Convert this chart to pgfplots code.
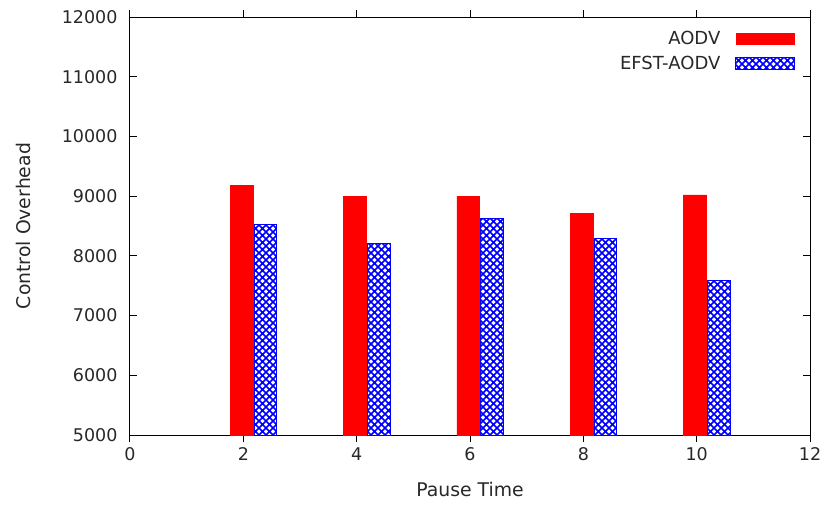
\documentclass[border=0pt]{standalone}
\usepackage{pgfplots}
\pgfplotsset{compat=1.18}
\usepackage{fontspec}
\setmainfont{DejaVu Sans}
\usetikzlibrary{patterns.meta}
\tikzdeclarepattern{name=xhatch, type=uncolored,
  bottom left={(-.5pt,-.5pt)}, top right={(4.7pt,4.7pt)},
  tile size={(4.2pt,4.2pt)},
  code={\draw[line width=0.9pt] (0,0)--(4.2pt,4.2pt) (0,4.2pt)--(4.2pt,0);}}
\definecolor{txt}{RGB}{40,40,40}
\begin{document}
\begin{tikzpicture}
\path[use as bounding box] (-78pt,-42pt) rectangle (421.8pt,261pt);
\begin{axis}[
  at={(0,0)}, anchor=south west,
  scale only axis, width=408pt, height=250.8pt,
  xmin=0, xmax=12, ymin=5000, ymax=12000,
  xtick={0,2,...,12}, ytick={5000,6000,...,12000},
  scaled y ticks=false,
  /pgf/number format/1000 sep={},
  /pgf/number format/assume math mode=true,
  tick label style={font=\fontsize{10.5}{12}\selectfont, color=txt},
  yticklabel style={xshift=-4pt},
  label style={font=\fontsize{11.3}{13}\selectfont, color=txt},
  xlabel={Pause Time}, ylabel={Control Overhead},
  xlabel style={yshift=-6pt},
  ylabel style={yshift=12pt},
  axis line style={line width=0.6pt, black},
  tick style={line width=0.6pt, black},
  major tick length=4pt,
  tick align=inside, tick pos=both,
  ybar, bar width=0.4, bar shift=0pt,
  legend style={at={(axis description cs:1,1)}, anchor=north east,
    xshift=-6pt, yshift=-4pt, draw=none, fill=none,
    font=\fontsize{10.8}{12}\selectfont, text=txt,
    legend cell align=right, row sep=1.5pt},
  legend plot pos=right,
  legend image code/.code={\path (0pt,0pt); \draw[#1] (7pt,-3.4pt) rectangle (42pt,3.4pt);},
]
\addplot[fill=red, draw=red, line width=0.3pt] coordinates {(1.97,9180) (3.97,9000) (5.97,9000) (7.97,8710) (9.97,9020)};
\addlegendentry{AODV}
\addplot[pattern={xhatch}, pattern color=blue, draw=blue, line width=0.6pt] coordinates {(2.39,8530) (4.39,8210) (6.39,8620) (8.39,8290) (10.39,7580)};
\addlegendentry{EFST-AODV}
\end{axis}
\end{tikzpicture}
\end{document}
